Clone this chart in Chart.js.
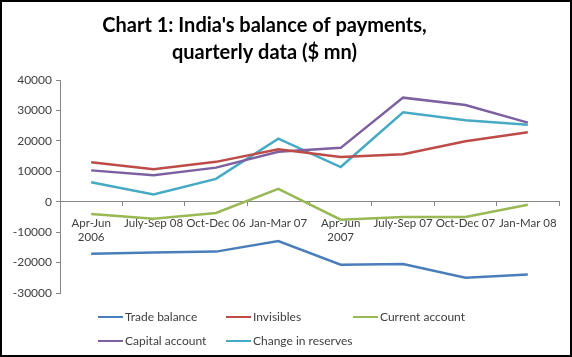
<!DOCTYPE html>
<html>
<head>
<meta charset="utf-8">
<script src="https://cdn.jsdelivr.net/npm/chart.js@4/dist/chart.umd.min.js"></script>
<style>
  html, body { margin: 0; padding: 0; background: #fff; }
  #frame { position: absolute; left: 0; top: 0; width: 568px; height: 353px; border: 2px solid #000; background: #fff; }
  #wrap { position: absolute; left: 0; top: 0; width: 572px; height: 357px; }
  #legend { position: absolute; left: 0; top: 0; width: 572px; height: 357px; pointer-events: none;
            font-family: Lato, "Open Sans", sans-serif; font-size: 12px; color: #404040; }
  .li { position: absolute; white-space: nowrap; line-height: 14px; }
  .sw { display: inline-block; width: 25px; height: 0; border-top: 2.5px solid; vertical-align: middle; margin-right: 2px; position: relative; top: -1px; }
</style>
</head>
<body>
<div id="frame"></div>
<div id="wrap"><canvas id="c" width="572" height="357"></canvas></div>
<div id="legend"></div>
<script>
const categories = [["Apr-Jun", "2006"], "July-Sep 08", "Oct-Dec 06", "Jan-Mar 07", ["Apr-Jun", "2007"], "July-Sep 07", "Oct-Dec 07", "Jan-Mar 08"];
const seriesNames = ["Trade balance", "Invisibles", "Current account", "Capital account", "Change in reserves"];
const tradeBalance = [-17100, -16700, -16400, -12900, -20700, -20500, -25000, -23900];
const invisibles = [13000, 10700, 13100, 17200, 14700, 15600, 19900, 22800];
const currentAccount = [-4000, -5600, -3700, 4200, -5900, -5000, -5000, -1000];
const capitalAccount = [10300, 8700, 11200, 16400, 17700, 34200, 31800, 26000];
const changeInReserves = [6400, 2400, 7500, 20700, 11400, 29400, 26800, 25300];
const yTicks = [-30000, -20000, -10000, 0, 10000, 20000, 30000, 40000];
const titleLines = ["Chart 1: India's balance of payments,", "quarterly data ($ mn)"];

const colors = ["#4A7EBB", "#BE4B48", "#98B954", "#7D60A0", "#46AAC5"];
const values = [tradeBalance, invisibles, currentAccount, capitalAccount, changeInReserves];

const datasets = seriesNames.map((n, i) => ({
  label: n,
  data: values[i],
  borderColor: colors[i],
  backgroundColor: colors[i],
  borderWidth: 2.5,
  pointRadius: 0,
  tension: 0,
  fill: false
}));

const xFont = { family: "Lato, 'Open Sans', sans-serif", size: 11.5 };
const yFont = { family: "Lato, 'Open Sans', sans-serif", size: 12 };

// shift the title's centre slightly left, as in the reference
const titleShift = {
  id: 'titleShift',
  afterLayout(chart) {
    const t = chart.titleBlock;
    if (t) { t.left -= 17; t.right -= 17; }
  }
};

new Chart(document.getElementById('c'), {
  type: 'line',
  data: { labels: categories, datasets },
  plugins: [titleShift],
  options: {
    responsive: false,
    animation: false,
    devicePixelRatio: 1,
    layout: { padding: { left: 4, right: 13, top: 6, bottom: 64 } },
    plugins: {
      legend: { display: false },
      tooltip: { enabled: false },
      title: {
        display: true,
        text: titleLines,
        color: '#000',
        font: { family: "Lato, 'Open Sans', sans-serif", size: 20, weight: 'bold', lineHeight: 1.35 },
        padding: { top: 6, bottom: 14 }
      }
    },
    scales: {
      x: {
        type: 'category',
        position: { y: 0 },
        offset: true,
        grid: { offset: true, drawOnChartArea: false, drawTicks: true, tickLength: 4, color: '#868686' },
        border: { display: true, color: '#868686', width: 1 },
        ticks: { color: '#404040', font: xFont, padding: 11, maxRotation: 0, autoSkip: false },
        afterFit: (s) => { s.height = 0; }
      },
      y: {
        min: -30000,
        max: 40000,
        afterBuildTicks: (s) => { s.ticks = yTicks.map(v => ({ value: v })); },
        grid: { drawOnChartArea: false, drawTicks: true, tickLength: 4, color: '#868686' },
        border: { display: true, color: '#868686', width: 1 },
        ticks: { color: '#404040', font: yFont, padding: 4, callback: (v) => String(v) },
        afterFit: (s) => { s.width = 56; }
      }
    }
  }
});

// HTML legend laid out in columns like the reference
const legendPos = [[98, 310], [226, 310], [353, 310], [98, 334], [226, 334]];
const leg = document.getElementById('legend');
seriesNames.forEach((n, i) => {
  const d = document.createElement('div');
  d.className = 'li';
  d.style.left = legendPos[i][0] + 'px';
  d.style.top = legendPos[i][1] + 'px';
  d.innerHTML = '<span class="sw" style="border-color:' + colors[i] + '"></span>' + n;
  leg.appendChild(d);
});
</script>
</body>
</html>
